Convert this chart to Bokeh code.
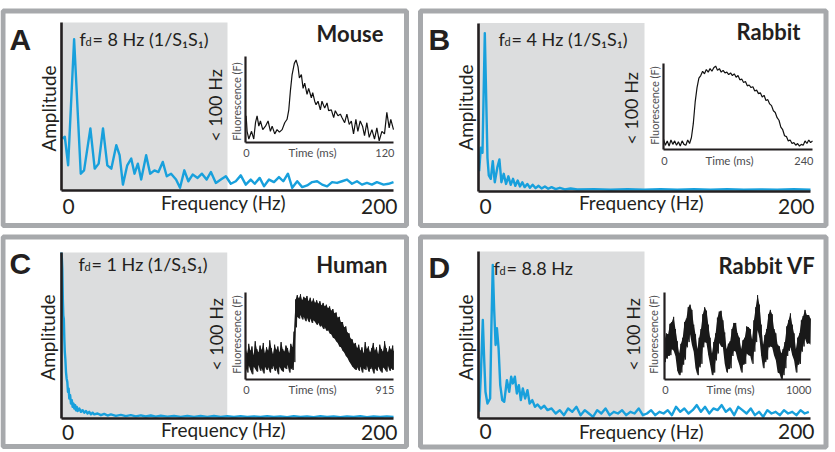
from math import pi
from bokeh.plotting import figure
from bokeh.models import Range1d, LinearAxis, FixedTicker
from bokeh.core.properties import value
from bokeh.embed import file_html
from bokeh.resources import INLINE

# ---------------- data ----------------
FMAX = 200
SHADE_HZ = 100

A_freq = [0.6, 2.0, 4.0, 7.6, 11.6, 13.6, 17.4, 20.0, 22.4, 25.0, 27.6, 30.0, 33.0, 35.0, 37.0, 39.6, 42, 44, 46, 48,
          51, 53.4, 56, 58.4, 61, 63.4, 66, 69, 71.4, 74, 76.4, 79, 82, 84.6, 87.4, 90, 93, 96, 99, 102,
          105, 108, 111, 114, 116.4, 119.4, 122, 125, 128, 131, 133.6, 136.4, 139, 142, 145, 148, 151, 154, 157, 160,
          163, 166, 169, 172, 175, 178, 181, 184, 187, 190, 194, 197, 200]
A_amp = [0.31, 0.32, 0.15, 0.90, 0.10, 0.12, 0.37, 0.13, 0.16, 0.37, 0.15, 0.13, 0.27, 0.21, 0.035, 0.15, 0.19, 0.10, 0.16, 0.065,
         0.21, 0.10, 0.12, 0.11, 0.17, 0.085, 0.10, 0.065, 0.016, 0.12, 0.055, 0.095, 0.075, 0.10, 0.065, 0.11, 0.045, 0.065, 0.085, 0.04,
         0.055, 0.09, 0.035, 0.065, 0.04, 0.075, 0.025, 0.065, 0.05, 0.08, 0.055, 0.10, 0.016, 0.055, 0.02, 0.03, 0.05, 0.055, 0.035, 0.025,
         0.05, 0.045, 0.055, 0.065, 0.04, 0.055, 0.035, 0.045, 0.035, 0.05, 0.035, 0.04, 0.05]

B_freq = [0.4, 1.4, 2.4, 3.8, 5.4, 6.2, 7.4, 8.6, 9.8, 11.4, 12.6, 13.8, 15.2, 16.6, 18.0, 19.4, 20.8, 22.2, 23.6, 25.0,
          26.4, 27.8, 29.4, 31, 32.6, 34.4, 36.2, 38, 40, 42, 44, 46.5, 49, 52, 55.5, 59.5, 69.6, 79.6, 89.7, 99.7,
          109.7, 119.8, 129.8, 139.8, 149.8, 159.9, 169.9, 179.9, 189.9, 200]
B_amp = [0.12, 0.26, 0.23, 0.94, 0.20, 0.095, 0.075, 0.18, 0.055, 0.145, 0.19, 0.055, 0.105, 0.045, 0.09, 0.04, 0.075, 0.034, 0.065, 0.03,
         0.055, 0.026, 0.045, 0.022, 0.04, 0.02, 0.034, 0.018, 0.03, 0.016, 0.026, 0.014, 0.022, 0.012, 0.018, 0.012, 0.014, 0.010, 0.013, 0.011,
         0.013, 0.010, 0.013, 0.011, 0.013, 0.010, 0.012, 0.011, 0.013, 0.011]

C_freq = [0.2, 0.5, 0.8, 1.1, 1.4, 1.7, 2.0, 2.3, 2.6, 3.0, 3.4, 3.8, 4.2, 4.6, 5.0, 5.5, 6.0, 6.5, 7.0, 7.5,
          8.0, 8.5, 9.0, 9.5, 10, 11, 12, 13, 14, 15, 16, 17, 18, 19, 20, 22, 24, 26, 28, 30,
          33, 36, 39, 42, 45, 48, 51, 54, 57, 60, 64, 68, 72, 76, 80, 84, 88, 92, 96, 100,
          104, 108, 112, 116, 120, 124, 128, 132, 136, 140, 144, 148, 152, 156, 160, 164, 168, 172, 176, 180,
          184, 188, 192, 196, 200]
C_amp = [1.0, 0.97, 0.90, 0.72, 0.62, 0.60, 0.48, 0.40, 0.36, 0.28, 0.24, 0.22, 0.16, 0.18, 0.12, 0.14, 0.09, 0.11, 0.07, 0.09,
         0.06, 0.08, 0.05, 0.07, 0.045, 0.06, 0.04, 0.05, 0.035, 0.045, 0.03, 0.04, 0.025, 0.035, 0.025, 0.03, 0.02, 0.028, 0.018, 0.025,
         0.016, 0.022, 0.014, 0.02, 0.013, 0.019, 0.012, 0.018, 0.011, 0.017, 0.011, 0.016, 0.010, 0.016, 0.010, 0.015, 0.010, 0.015, 0.009, 0.014,
         0.009, 0.014, 0.009, 0.013, 0.009, 0.014, 0.009, 0.013, 0.008, 0.014, 0.009, 0.013, 0.008, 0.014, 0.009, 0.013, 0.008, 0.013, 0.009, 0.014,
         0.008, 0.012, 0.009, 0.013, 0.009]

D_freq = [0.4, 1.4, 2.6, 3.4, 4.2, 5.4, 7.0, 7.8, 8.6, 9.4, 10.3, 11.1, 12.1, 13.1, 14.3, 15.5, 17.1, 18.5, 19.7, 20.7,
          21.9, 23.1, 24.3, 25.5, 26.7, 28.1, 29.5, 30.8, 32.4, 34, 35.6, 37.6, 39.6, 41.6,
          44, 46.5, 49, 51.5, 54, 56.5, 59, 61.5, 64, 66.5, 69, 71.5, 74, 76.5, 79, 81.5, 84, 86.5, 89, 91.5,
          94, 96.5, 99, 101.5, 104, 106.5, 109, 111.5, 114, 116.5, 119, 121.5, 124, 126.5, 129, 131.5, 134, 136.5, 139, 141.5,
          144, 146.5, 149, 151.5, 154, 156.5, 159, 161.5, 164, 166.5, 169, 171.5, 174, 176.5, 179, 181.5, 184, 186.5, 189, 191.5,
          194, 196.5, 199]
D_amp = [0.04, 0.26, 0.59, 0.36, 0.16, 0.09, 0.12, 0.56, 0.92, 0.66, 0.44, 0.54, 0.42, 0.20, 0.11, 0.10, 0.23, 0.16, 0.25, 0.21,
         0.25, 0.15, 0.20, 0.11, 0.18, 0.12, 0.17, 0.09, 0.11, 0.07, 0.084, 0.06, 0.076, 0.05,
         0.06, 0.03, 0.05, 0.02, 0.06, 0.04, 0.07, 0.02, 0.05, 0.03, 0.01, 0.05, 0.03, 0.06, 0.02, 0.04, 0.03, 0.05, 0.02, 0.04,
         0.03, 0.06, 0.02, 0.03, 0.05, 0.02, 0.04, 0.03, 0.05, 0.02, 0.07, 0.04, 0.06, 0.03, 0.05, 0.08, 0.04, 0.07, 0.03, 0.06,
         0.05, 0.08, 0.04, 0.06, 0.02, 0.07, 0.05, 0.03, 0.06, 0.02, 0.04, 0.01, 0.05, 0.03, 0.04, 0.02, 0.05, 0.03, 0.04, 0.02,
         0.05, 0.03, 0.04]

# inset traces (time in ms, fluorescence normalised 0..1)
A_ins_t = [0.5, 1.3, 2.7, 4.9, 6.7, 8.1, 9.4, 10.8, 12.1, 14.0, 16.2, 18.3, 20.2, 21.6, 23.7, 25.6, 27.5, 29.7, 31.8, 33.7,
           35.1, 36.4, 37.8, 39.6, 41.0, 42.6, 43.7, 45.3, 46.7, 48.0, 49.9, 51.2, 53.4, 54.5, 56.1, 57.2, 58.8, 60.7, 62.0, 64.2,
           66.1, 67.4, 69.6, 71.5, 72.8, 75.0, 76.9, 78.2, 80.4, 82.2, 84.1, 85.8, 87.6, 89.5, 91.1, 93.0, 94.9, 96.5, 98.4, 100.3,
           102.5, 104.6, 106.5, 108.4, 110.6, 112.7, 114.6, 116.5, 117.8, 120.0]
A_ins_f = [0.31, 0.13, 0.04, 0.13, 0.04, 0.23, 0.31, 0.19, 0.25, 0.15, 0.19, 0.25, 0.13, 0.19, 0.10, 0.15, 0.12, 0.15, 0.23, 0.27,
           0.38, 0.60, 0.79, 0.92, 0.96, 0.88, 0.75, 0.79, 0.63, 0.69, 0.56, 0.63, 0.52, 0.58, 0.48, 0.44, 0.48, 0.38, 0.48, 0.40,
           0.46, 0.37, 0.38, 0.29, 0.37, 0.31, 0.33, 0.29, 0.23, 0.33, 0.21, 0.25, 0.10, 0.27, 0.13, 0.25, 0.19, 0.08, 0.23, 0.06,
           0.15, 0.04, 0.17, 0.02, 0.13, 0.10, 0.35, 0.17, 0.27, 0.15]

B_ins_t = [0, 3, 6, 9, 12, 15, 18, 21, 24, 27, 30, 33, 36, 39, 42, 45, 48, 51, 54, 57,
           60, 63, 66, 69, 72, 75, 78, 81, 84, 87, 90, 93, 96, 99, 102, 105, 108, 111, 114, 117,
           120, 123, 126, 129, 132, 135, 138, 141, 144, 147, 150, 153, 156, 159, 162, 165, 168, 171, 174, 177,
           180, 183, 186, 189, 192, 195, 198, 201, 204, 207, 210, 213, 216, 219, 222, 225, 228, 231, 234, 237, 240]
B_ins_f = [0.12, 0.05, 0.10, 0.04, 0.11, 0.06, 0.10, 0.05, 0.09, 0.04, 0.10, 0.06, 0.05, 0.11, 0.07, 0.14, 0.30, 0.55, 0.72, 0.83,
           0.86, 0.91, 0.88, 0.93, 0.90, 0.94, 0.91, 0.95, 0.97, 0.92, 0.94, 0.90, 0.92, 0.89, 0.90, 0.87, 0.89, 0.86, 0.88, 0.84,
           0.86, 0.81, 0.82, 0.78, 0.79, 0.74, 0.75, 0.72, 0.73, 0.68, 0.69, 0.65, 0.66, 0.61, 0.63, 0.57, 0.58, 0.53, 0.51, 0.45,
           0.43, 0.37, 0.34, 0.26, 0.23, 0.16, 0.15, 0.10, 0.11, 0.07, 0.08, 0.05, 0.07, 0.04, 0.06, 0.05, 0.10, 0.07, 0.11, 0.08, 0.10]

# dense noisy traces: upper / lower edges of the black band
C_ins_t = list(range(0, 911, 10)) + [915]
C_ins_hi = [0.36, 0.30, 0.41, 0.33, 0.38, 0.28, 0.44, 0.35, 0.31, 0.39, 0.34, 0.42, 0.30, 0.37, 0.33, 0.45, 0.36, 0.29, 0.40, 0.34,
            0.38, 0.31, 0.43, 0.35, 0.32, 0.39, 0.36, 0.30, 0.41, 0.37,
            0.55, 0.92, 0.97, 0.93, 0.98, 0.91, 0.95, 0.93, 0.96, 0.90, 0.94, 0.89, 0.93, 0.88, 0.91, 0.87, 0.90, 0.85, 0.88, 0.84,
            0.86, 0.82, 0.84, 0.79, 0.81, 0.76, 0.77, 0.71, 0.72, 0.66, 0.66, 0.60, 0.61, 0.54, 0.53, 0.47, 0.46, 0.41, 0.42, 0.36,
            0.40, 0.33, 0.37, 0.30, 0.43, 0.35, 0.38, 0.31, 0.36, 0.42, 0.33, 0.37, 0.29, 0.40, 0.35, 0.32, 0.44, 0.36, 0.31, 0.38,
            0.34, 0.39, 0.33]
C_ins_lo = [0.14, 0.08, 0.16, 0.11, 0.06, 0.15, 0.12, 0.09, 0.17, 0.10, 0.13, 0.07, 0.15, 0.11, 0.14, 0.08, 0.12, 0.16, 0.10, 0.13,
            0.06, 0.15, 0.11, 0.09, 0.14, 0.12, 0.17, 0.08, 0.13, 0.11,
            0.20, 0.60, 0.72, 0.70, 0.74, 0.69, 0.72, 0.67, 0.71, 0.66, 0.70, 0.65, 0.68, 0.66, 0.63, 0.65, 0.61, 0.62, 0.58, 0.60,
            0.56, 0.57, 0.53, 0.52, 0.48, 0.47, 0.44, 0.42, 0.38, 0.37, 0.33, 0.31, 0.27, 0.25, 0.21, 0.18, 0.15, 0.13, 0.11, 0.14,
            0.10, 0.15, 0.08, 0.13, 0.11, 0.16, 0.09, 0.12, 0.14, 0.07, 0.13, 0.10, 0.15, 0.11, 0.08, 0.14, 0.12, 0.09, 0.16, 0.10,
            0.13, 0.11, 0.12]

D_ins_t = [0, 12.5, 25, 37.5, 50, 62.5, 75, 87.5, 100, 112.5, 125, 137.5, 150, 162.5, 175, 187.5, 200, 212.5, 225, 237.5,
           250, 262.5, 275, 287.5, 300, 312.5, 325, 337.5, 350, 362.5, 375, 387.5, 400, 412.5, 425, 437.5, 450, 462.5, 475, 487.5,
           500, 512.5, 525, 537.5, 550, 562.5, 575, 587.5, 600, 612.5, 625, 637.5, 650, 662.5, 675, 687.5, 700, 712.5, 725, 737.5,
           750, 762.5, 775, 787.5, 800, 812.5, 825, 837.5, 850, 862.5, 875, 887.5, 900, 912.5, 925, 937.5, 950, 962.5, 975, 987.5, 1000]
D_ins_hi = [0.45, 0.53, 0.52, 0.64, 0.66, 0.72, 0.58, 0.44, 0.30, 0.41, 0.48, 0.66, 0.70, 0.83, 0.86, 0.80, 0.63, 0.52, 0.35, 0.48,
            0.58, 0.75, 0.83, 0.79, 0.63, 0.48, 0.30, 0.43, 0.53, 0.71, 0.78, 0.79, 0.68, 0.54, 0.35, 0.41, 0.44, 0.58, 0.65, 0.65,
            0.53, 0.48, 0.35, 0.45, 0.48, 0.61, 0.60, 0.58, 0.46, 0.68, 0.83, 0.97, 0.86, 0.63, 0.40, 0.51, 0.58, 0.75, 0.80, 0.75,
            0.58, 0.53, 0.40, 0.38, 0.30, 0.35, 0.43, 0.61, 0.68, 0.76, 0.63, 0.53, 0.35, 0.48, 0.53, 0.68, 0.73, 0.80, 0.74, 0.74, 0.70]
D_ins_lo = [0.20, 0.24, 0.27, 0.28, 0.35, 0.33, 0.27, 0.10, 0.05, 0.08, 0.17, 0.23, 0.37, 0.43, 0.52, 0.40, 0.32, 0.13, 0.05, 0.14,
            0.18, 0.37, 0.43, 0.42, 0.28, 0.17, 0.05, 0.08, 0.22, 0.30, 0.42, 0.38, 0.37, 0.18, 0.08, 0.12, 0.13, 0.27, 0.33, 0.32,
            0.23, 0.17, 0.08, 0.17, 0.18, 0.30, 0.28, 0.27, 0.18, 0.32, 0.43, 0.57, 0.48, 0.27, 0.13, 0.20, 0.23, 0.37, 0.38, 0.37,
            0.28, 0.22, 0.08, 0.07, 0.00, 0.05, 0.13, 0.27, 0.33, 0.37, 0.28, 0.22, 0.08, 0.17, 0.18, 0.32, 0.38, 0.47, 0.41, 0.42, 0.40]

LETTERS = ["A", "B", "C", "D"]
TITLES = ["Mouse", "Rabbit", "Human", "Rabbit VF"]
FD_TEXT = ["= 8 Hz (1/S\u2081S\u2081)", "= 4 Hz (1/S\u2081S\u2081)", "= 1 Hz (1/S\u2081S\u2081)", "= 8.8 Hz"]
INSET_TMAX = [120, 240, 915, 1000]
INSET_TLABEL = ["120", "240", "915", "1000"]

# ---------------- style / layout ----------------
FONT = "Lato"
BOLD_FONT = "Liberation Sans"
DARK = "#231f20"
GREYTXT = "#4d4d4f"
BLUE = "#18a0dc"
SHADE = "#dcddde"
BORDER = "#a7a9ac"
CW, CH = 835, 452

# positions on the canvas (pixels from top-left); text y values are visual centres
LAYOUT = [
    dict(box=(2.5, 406, 10.5, 225), main=(61, 393, 22, 190), inset=(245, 393, 56, 142),
         letter=(9, 39), title=(383, 32.5), fd=(79, 38), lt100=(214, 105), amp=(47.5, 108),
         freq=(223, 202), ticks=205.5, fluo=(236, 101), time=(312, 152)),
    dict(box=(420, 825.5, 10.5, 225), main=(478, 810, 22.5, 191), inset=(663, 812, 63, 149),
         letter=(428, 39), title=(800, 30.5), fd=(498, 38.5), lt100=(630, 108), amp=(465, 107),
         freq=(641, 202), ticks=205.5, fluo=(654, 105), time=(729, 160)),
    dict(box=(2.5, 406, 236.5, 446), main=(60.5, 393, 252, 418), inset=(245, 393, 292, 379),
         letter=(9, 263), title=(387, 263.5), fd=(78, 263.5), lt100=(215, 334), amp=(47, 337),
         freq=(223, 429), ticks=431.5, fluo=(236, 334), time=(312, 389)),
    dict(box=(420, 825.5, 236.5, 446.5), main=(478, 810, 251, 418), inset=(664, 810, 292, 379),
         letter=(428, 267), title=(815, 265), fd=(493, 267.5), lt100=(632, 334), amp=(465, 337),
         freq=(641, 431), ticks=430.5, fluo=(653, 334), time=(730, 389)),
]

p = figure(width=CW, height=CH, output_backend="svg", toolbar_location=None,
           x_range=Range1d(0, CW), y_range=Range1d(CH, 0),
           x_axis_type=None, y_axis_type=None, min_border=0,
           background_fill_color="white", border_fill_color="white", outline_line_color=None,
           styles={"position": "absolute", "left": "0px", "top": "0px"})


def txt(x, y, s, size, font=FONT, style="normal", color=DARK, align="left", angle=0.0):
    p.text(x=[x], y=[y], text=[s], text_font=value(font), text_font_size=f"{size}px",
           text_font_style=style, text_color=color, text_align=align,
           text_baseline="middle", angle=angle)


def panel(i, spec_f, spec_a, inset_kind, ins_t, ins_a, ins_b=None):
    L = LAYOUT[i]
    x0, x1, yt, yb = L["main"]
    ix0, ix1, iyt, iyb = L["inset"]
    T = INSET_TMAX[i]
    hz = lambda px: (px - x0) / (x1 - x0) * FMAX
    amp = lambda py: (yb - py) / (yb - yt)
    tms = lambda px: (px - ix0) / (ix1 - ix0) * T
    fl = lambda py: (iyb - py) / (iyb - iyt)
    hx, ay, tx, ty = f"hz{i}", f"amp{i}", f"t{i}", f"f{i}"
    p.extra_x_ranges[hx] = Range1d(hz(0), hz(CW))
    p.extra_y_ranges[ay] = Range1d(amp(CH), amp(0))
    p.extra_x_ranges[tx] = Range1d(tms(0), tms(CW))
    p.extra_y_ranges[ty] = Range1d(fl(CH), fl(0))

    # panel frame
    bl, br, bt, bb = L["box"]
    p.quad(left=[bl], right=[br], top=[bt], bottom=[bb], fill_color=None,
           line_color=BORDER, line_width=5)

    # shaded band and spectrum
    p.quad(left=[0], right=[SHADE_HZ], bottom=[0], top=[1], fill_color=SHADE, line_color=None,
           x_range_name=hx, y_range_name=ay)
    p.line(spec_f, spec_a, line_color=BLUE, line_width=2.4, line_join="round",
           x_range_name=hx, y_range_name=ay)
    for side, bounds in (("left", (0, 1)), ("below", (0, FMAX))):
        ax = LinearAxis(x_range_name=hx, y_range_name=ay, fixed_location=0, bounds=bounds,
                        ticker=FixedTicker(ticks=[]), axis_line_color=DARK, axis_line_width=2.6,
                        major_tick_line_color=None, minor_tick_line_color=None,
                        major_label_text_font_size="0px")
        p.add_layout(ax, side)

    # inset trace
    if inset_kind == "line":
        p.line(ins_t, ins_a, x_range_name=tx, y_range_name=ty, line_color="#111111", line_width=1.2)
    else:
        p.varea(x=ins_t, y1=ins_b, y2=ins_a, x_range_name=tx, y_range_name=ty, fill_color="#1a1a1a")
        xs, ys = [], []
        for k in range(len(ins_t)):
            xs.append(ins_t[k])
            ys.append(ins_a[k])
            if k + 1 < len(ins_t):
                xs.append((ins_t[k] + ins_t[k + 1]) / 2)
                ys.append(ins_b[k])
        p.line(xs, ys, x_range_name=tx, y_range_name=ty, line_color="#1a1a1a", line_width=0.9)
    for side, bounds in (("left", (0, 1)), ("below", (0, T))):
        ax = LinearAxis(x_range_name=tx, y_range_name=ty, fixed_location=0, bounds=bounds,
                        ticker=FixedTicker(ticks=[]), axis_line_color=DARK, axis_line_width=2.2,
                        major_tick_line_color=None, minor_tick_line_color=None,
                        major_label_text_font_size="0px")
        p.add_layout(ax, side)

    # texts
    txt(*L["letter"], LETTERS[i], 30, font=BOLD_FONT, style="bold")
    txt(*L["title"], TITLES[i], 22, style="bold", align="right")
    fx, fy = L["fd"]
    txt(fx, fy, "f", 18)
    txt(fx + 6, fy + 2.5, "d", 11)
    txt(fx + 13, fy, FD_TEXT[i], 18)
    txt(*L["lt100"], "< 100 Hz", 18, align="center", angle=pi / 2)
    txt(*L["amp"], "Amplitude", 19, align="center", angle=pi / 2)
    txt(*L["freq"], "Frequency (Hz)", 19, align="center")
    txt(x0 + 1, L["ticks"], "0", 21, align="left")
    txt(x1 + 4, L["ticks"], "200", 21, align="right")
    txt(*L["fluo"], "Fluorescence (F)", 11, color=GREYTXT, align="center", angle=pi / 2)
    txt(*L["time"], "Time (ms)", 11.5, color=GREYTXT, align="center")
    txt(ix0 + 1, L["time"][1], "0", 11, color=GREYTXT, align="center")
    txt(ix1 + 1, L["time"][1], INSET_TLABEL[i], 11, color=GREYTXT, align="right")


panel(0, A_freq, A_amp, "line", A_ins_t, A_ins_f)
panel(1, B_freq, B_amp, "line", B_ins_t, B_ins_f)
panel(2, C_freq, C_amp, "band", C_ins_t, C_ins_hi, C_ins_lo)
panel(3, D_freq, D_amp, "band", D_ins_t, D_ins_hi, D_ins_lo)

with open("out.html", "w") as fh:
    fh.write(file_html(p, INLINE))
